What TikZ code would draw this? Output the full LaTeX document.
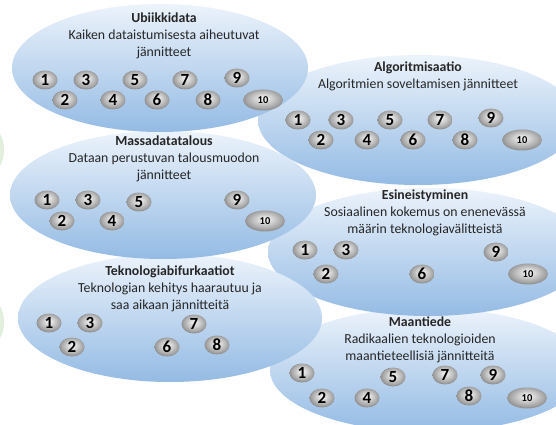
\documentclass[tikz,border=0pt]{standalone}
\usepackage{fontspec}
\setmainfont{Carlito}
\usetikzlibrary{shapes.geometric, positioning}

\definecolor{pilvi1}{RGB}{236,243,251}
\definecolor{pilvi2}{RGB}{203,221,242}
\definecolor{pilvi3}{RGB}{148,187,228}
\definecolor{lehti}{RGB}{224,238,217}
\pgfdeclareradialshading{pallovari}{\pgfpoint{0bp}{5bp}}{color(0bp)=(white!90!gray); color(7bp)=(gray!25); color(15bp)=(gray!50); color(22bp)=(gray!72); color(25bp)=(gray!85); color(50bp)=(gray!90)}

\begin{document}
\begin{tikzpicture}[x=1pt, y=-1pt,
    pilvi/.style={ellipse, inner sep=0pt, top color=pilvi1, middle color=pilvi2, bottom color=pilvi3},
    teksti/.style={align=center, text=black!85, font=\fontsize{13.8}{17}\selectfont},
    numero/.style={ellipse, inner sep=0pt, minimum width=25pt, minimum height=19pt,
        shading=pallovari, font=\bfseries\fontsize{17}{17}\selectfont},
    kymppi/.style={numero, minimum width=40pt, minimum height=21pt, font=\bfseries\fontsize{10.5}{10.5}\selectfont}]

    \clip (0,0) rectangle (556,425);
    \fill[white] (0,0) rectangle (556,425);

    % vihreat reunat vasemmalla
    \path[shading=radial, inner color=white, outer color=lehti] (-30,150) circle (34);
    \path[shading=radial, inner color=white, outer color=lehti] (-30,322) circle (34);

    % oikea sarake
    \node[pilvi, minimum width=316pt, minimum height=124pt] (maan) at (428,370) {};
    \node[teksti] (maan-txt) at (420,340) {\textbf{Maantiede}\\Radikaalien teknologioiden\\maantieteellisiä jännitteitä};
    \foreach \n/\x/\y in {1/302/373, 2/322/398, 4/367/398, 5/393/377, 7/445/375, 8/469/396, 9/493/375}
        \node[numero] (maan-\n) at (\x,\y) {\n};
    \node[kymppi] (maan-10) at (527,398) {10};

    \node[pilvi, minimum width=320pt, minimum height=128pt] (esin) at (428,252) {};
    \node[teksti] (esin-txt) at (425,213) {\textbf{Esineistyminen}\\Sosiaalinen kokemus on enenevässä\\määrin teknologiavälitteistä};
    \foreach \n/\x/\y in {1/305/250, 3/346/250, 9/496/252, 2/326/274, 6/422/274}
        \node[numero] (esin-\n) at (\x,\y) {\n};
    \node[kymppi] (esin-10) at (528,274) {10};

    \node[pilvi, minimum width=320pt, minimum height=130pt] (alg) at (418,120) {};
    \node[teksti] (alg-txt) at (418,76) {\textbf{Algoritmisaatio}\\Algoritmien soveltamisen jännitteet};
    \foreach \n/\x/\y in {1/298/120, 3/341/120, 5/390/120, 7/440/120, 9/491/118,
                          2/321/140, 4/367/140, 6/413/140, 8/465/140}
        \node[numero] (alg-\n) at (\x,\y) {\n};
    \node[kymppi] (alg-10) at (522,140) {10};

    % vasen sarake
    \node[pilvi, minimum width=304pt, minimum height=128pt] (tekno) at (170,318) {};
    \node[teksti] (tekno-txt) at (170,289) {\textbf{Teknologiabifurkaatiot}\\Teknologian kehitys haarautuu ja\\saa aikaan jännitteitä};
    \foreach \n/\x/\y in {1/49/323, 3/90/323, 7/194/324, 2/72/347, 6/167/347, 8/217/345}
        \node[numero] (tekno-\n) at (\x,\y) {\n};

    \node[pilvi, minimum width=306pt, minimum height=128pt] (massa) at (163,195) {};
    \node[teksti] (massa-txt) at (164,159) {\textbf{Massadatatalous}\\Dataan perustuvan talousmuodon\\jännitteet};
    \foreach \n/\x/\y in {1/47/200, 3/88/200, 5/139/202, 9/237/200, 2/62/221, 4/112/221}
        \node[numero] (massa-\n) at (\x,\y) {\n};
    \node[kymppi] (massa-10) at (265,221) {10};

    \node[pilvi, minimum width=296pt, minimum height=128pt] (ubi) at (160,68) {};
    \node[teksti] (ubi-txt) at (164,36) {\textbf{Ubiikkidata}\\Kaiken dataistumisesta aiheutuvat\\jännitteet};
    \foreach \n/\x/\y in {1/45/80, 3/86/80, 5/135/80, 7/185/80, 9/237/78,
                          2/65/100, 4/113/100, 6/157/100, 8/208/100}
        \node[numero] (ubi-\n) at (\x,\y) {\n};
    \node[kymppi] (ubi-10) at (263,100) {10};

\end{tikzpicture}
\end{document}
